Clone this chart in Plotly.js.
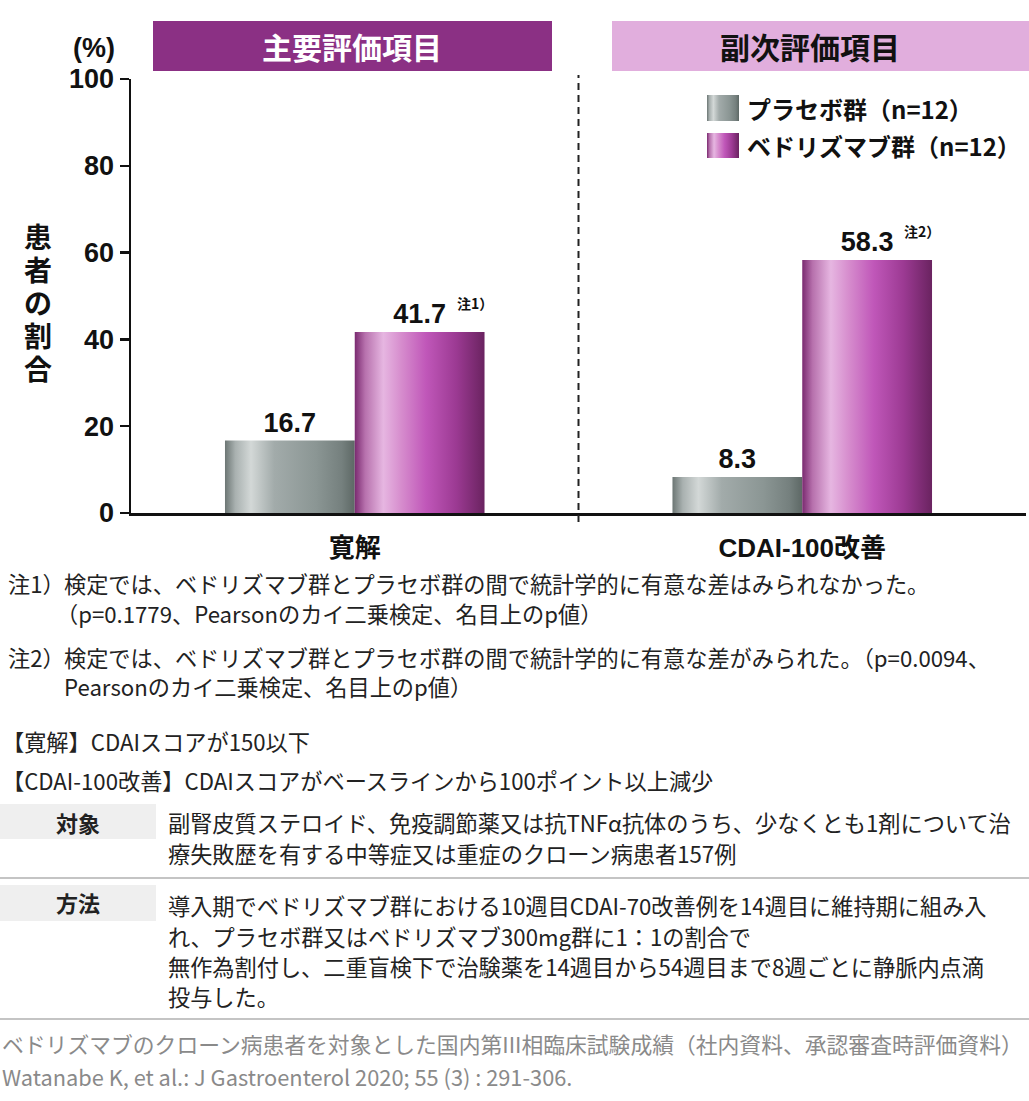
<!DOCTYPE html>
<html>
<head>
<meta charset="utf-8">
<script src="https://cdn.plot.ly/plotly-3.0.1.min.js"></script>
<style>
  body { margin: 0; background: #fff; }
  #chart { width: 1029px; height: 1101px; }
</style>
</head>
<body>
<div id="chart"></div>
<script>
// data
var categories = ['寛解', 'CDAI-100改善'];
var placebo = [16.7, 8.3];
var vedolizumab = [41.7, 58.3];
var seriesNames = ['プラセボ群（n=12）', 'ベドリズマブ群（n=12）'];
var noteMarks = ['注1）', '注2）'];
var yTicks = [0, 20, 40, 60, 80, 100];

var jp = 'Noto Sans CJK JP, sans-serif';
var num = 'Liberation Sans, Arial, Noto Sans CJK JP, sans-serif';

// pixel -> paper helpers (plot area 131..1026 x 79..513)
var L = 131, W = 895, B = 513, H = 434;
function px(x) { return (x - L) / W; }
function py(y) { return (B - y) / H; }

var barText = {family: num, size: 27, color: '#111', weight: 'bold'};

var trace1 = {
  x: categories,
  y: placebo,
  name: seriesNames[0],
  type: 'bar',
  text: placebo.map(function (v) { return v.toFixed(1); }),
  textposition: 'outside',
  textfont: barText,
  cliponaxis: false,
  marker: {color: '#8f9a98', line: {width: 0}},
  hoverinfo: 'skip'
};
var trace2 = {
  x: categories,
  y: vedolizumab,
  name: seriesNames[1],
  type: 'bar',
  text: vedolizumab.map(function (v) { return v.toFixed(1); }),
  textposition: 'outside',
  textfont: barText,
  cliponaxis: false,
  marker: {color: '#c057b9', line: {width: 0}},
  hoverinfo: 'skip'
};

function txt(s, x, y, opt) {
  opt = opt || {};
  return {
    text: s, xref: 'paper', yref: 'paper', x: px(x), y: py(y),
    xanchor: opt.anchor || 'left', yanchor: 'middle', showarrow: false,
    font: {family: opt.family || jp, size: opt.size || 22.2, color: opt.color || '#222', weight: opt.weight || 'normal'}
  };
}

var annotations = [
  txt('主要評価項目', 352, 46, {anchor: 'center', size: 30, weight: 'bold', color: '#fff'}),
  txt('副次評価項目', 810, 46, {anchor: 'center', size: 30, weight: 'bold', color: '#111'}),
  txt('(%)', 94, 48, {anchor: 'center', size: 27, weight: 'bold', family: num, color: '#111'}),
  txt(seriesNames[0], 745, 108, {size: 24, weight: 'bold', color: '#111'}),
  txt(seriesNames[1], 745, 145, {size: 24, weight: 'bold', color: '#111'}),

  txt('注1）', 6, 583),
  txt('検定では、ベドリズマブ群とプラセボ群の間で統計学的に有意な差はみられなかった。', 62, 583),
  txt('（p=0.1779、Pearsonのカイ二乗検定、名目上のp値）', 54, 613),
  txt('注2）', 6, 657),
  txt('検定では、ベドリズマブ群とプラセボ群の間で統計学的に有意な差がみられた。（p=0.0094、', 62, 657),
  txt('Pearsonのカイ二乗検定、名目上のp値）', 62, 686),
  txt('【寛解】CDAIスコアが150以下', 0, 741),
  txt('【CDAI-100改善】CDAIスコアがベースラインから100ポイント以上減少', 0, 780),
  txt('対象', 78, 822, {anchor: 'center', weight: 'bold', size: 22}),
  txt('副腎皮質ステロイド、免疫調節薬又は抗TNFα抗体のうち、少なくとも1剤について治', 166, 822),
  txt('療失敗歴を有する中等症又は重症のクローン病患者157例', 166, 853),
  txt('方法', 78, 902, {anchor: 'center', weight: 'bold', size: 22}),
  txt('導入期でベドリズマブ群における10週目CDAI-70改善例を14週目に維持期に組み入', 166, 905),
  txt('れ、プラセボ群又はベドリズマブ300mg群に1：1の割合で', 166, 936),
  txt('無作為割付し、二重盲検下で治験薬を14週目から54週目まで8週ごとに静脈内点滴', 166, 966),
  txt('投与した。', 166, 996),
  txt('ベドリズマブのクローン病患者を対象とした国内第III相臨床試験成績（社内資料、承認審査時評価資料）', 0, 1043, {color: '#8a8a8a', size: 21.8}),
  txt('Watanabe K, et al.: J Gastroenterol 2020; 55 (3) : 291-306.', 0, 1076, {color: '#8a8a8a', size: 21.8})
];

// vertical y-axis title, one upright character per row
'患者の割合'.split('').forEach(function (c, i) {
  annotations.push(txt(c, 38, 236 + i * 33, {anchor: 'center', size: 28, weight: 'bold', color: '#111'}));
});

// note marks next to the vedolizumab values
vedolizumab.forEach(function (v, i) {
  annotations.push({
    text: noteMarks[i], x: categories[i], y: v, xref: 'x', yref: 'y',
    xanchor: 'left', yanchor: 'middle', xshift: 100, yshift: 29, showarrow: false,
    font: {family: jp, size: 14, color: '#111', weight: 'bold'}
  });
});

var shapes = [
  {type: 'rect', xref: 'paper', yref: 'paper', x0: px(153), x1: px(552), y0: py(71), y1: py(21),
   fillcolor: '#8b3084', line: {width: 0}},
  {type: 'rect', xref: 'paper', yref: 'paper', x0: px(612), x1: px(1040), y0: py(71), y1: py(21),
   fillcolor: '#e1aedd', line: {width: 0}},
  {type: 'line', xref: 'paper', yref: 'paper', x0: 0.5, x1: 0.5, y0: py(522), y1: py(75),
   line: {color: '#222', width: 2, dash: '7px,5px'}},
  {type: 'rect', xref: 'paper', yref: 'paper', x0: px(707), x1: px(739), y0: py(121), y1: py(95),
   fillcolor: '#8f9a98', line: {width: 0}},
  {type: 'rect', xref: 'paper', yref: 'paper', x0: px(707), x1: px(739), y0: py(158), y1: py(133),
   fillcolor: '#c057b9', line: {width: 0}},
  {type: 'rect', xref: 'paper', yref: 'paper', x0: px(0), x1: px(156), y0: py(839), y1: py(804),
   fillcolor: '#efefef', line: {width: 0}, layer: 'below'},
  {type: 'rect', xref: 'paper', yref: 'paper', x0: px(0), x1: px(156), y0: py(921), y1: py(885),
   fillcolor: '#efefef', line: {width: 0}, layer: 'below'},
  {type: 'line', xref: 'paper', yref: 'paper', x0: px(0), x1: px(1029), y0: py(878), y1: py(878),
   line: {color: '#b0b0b0', width: 1.5}},
  {type: 'line', xref: 'paper', yref: 'paper', x0: px(0), x1: px(1029), y0: py(1019), y1: py(1019),
   line: {color: '#b0b0b0', width: 1.5}}
];

var layout = {
  width: 1029,
  height: 1101,
  margin: {l: L, r: 1029 - L - W, t: 79, b: 1101 - B},
  paper_bgcolor: '#fff',
  plot_bgcolor: '#fff',
  showlegend: false,
  barmode: 'group',
  bargap: 0.42,
  bargroupgap: 0,
  xaxis: {
    type: 'category',
    range: [-0.5, 1.5],
    showline: true, linecolor: '#111', linewidth: 2.5,
    ticks: '', showgrid: false, zeroline: false,
    ticklabelstandoff: 10,
    tickfont: {family: num, size: 26, color: '#111', weight: 'bold'}
  },
  yaxis: {
    range: [0, 100],
    tickvals: yTicks,
    showline: true, linecolor: '#111', linewidth: 2.5,
    ticks: 'outside', ticklen: 9, tickwidth: 2.5, tickcolor: '#111',
    showgrid: false, zeroline: false,
    tickfont: {family: num, size: 27, color: '#111', weight: 'bold'}
  },
  annotations: annotations,
  shapes: shapes
};

Plotly.newPlot('chart', [trace1, trace2], layout, {staticPlot: true}).then(function () {
  // cylinder-like gradients on the bars and legend swatches
  var svg = document.querySelector('#chart .main-svg');
  var ns = 'http://www.w3.org/2000/svg';
  var defs = document.createElementNS(ns, 'defs');
  var grads = {
    gPlacebo: [[0, '#6c7674'], [0.08, '#a9b1b0'], [0.2, '#d3d8d7'], [0.38, '#a2abaa'], [0.7, '#8b9694'], [0.9, '#75807e'], [1, '#5d6865']],
    gVedo: [[0, '#7a2a70'], [0.08, '#b771ad'], [0.22, '#e6b6e1'], [0.36, '#d68ccd'], [0.55, '#c057b9'], [0.78, '#9c3a93'], [1, '#6a2360']]
  };
  Object.keys(grads).forEach(function (id) {
    var lg = document.createElementNS(ns, 'linearGradient');
    lg.setAttribute('id', id);
    lg.setAttribute('x1', '0'); lg.setAttribute('x2', '1');
    lg.setAttribute('y1', '0'); lg.setAttribute('y2', '0');
    grads[id].forEach(function (s) {
      var st = document.createElementNS(ns, 'stop');
      st.setAttribute('offset', s[0]);
      st.setAttribute('stop-color', s[1]);
      lg.appendChild(st);
    });
    defs.appendChild(lg);
  });
  svg.insertBefore(defs, svg.firstChild);

  var ids = ['gPlacebo', 'gVedo'];
  document.querySelectorAll('#chart .trace.bars').forEach(function (g, i) {
    g.querySelectorAll('path').forEach(function (p) { p.style.fill = 'url(#' + ids[i] + ')'; });
  });
  [[3, 'gPlacebo'], [4, 'gVedo']].forEach(function (s) {
    var p = document.querySelector('#chart .shapelayer path[data-index="' + s[0] + '"]');
    if (p) p.style.fill = 'url(#' + s[1] + ')';
  });
});
</script>
</body>
</html>
